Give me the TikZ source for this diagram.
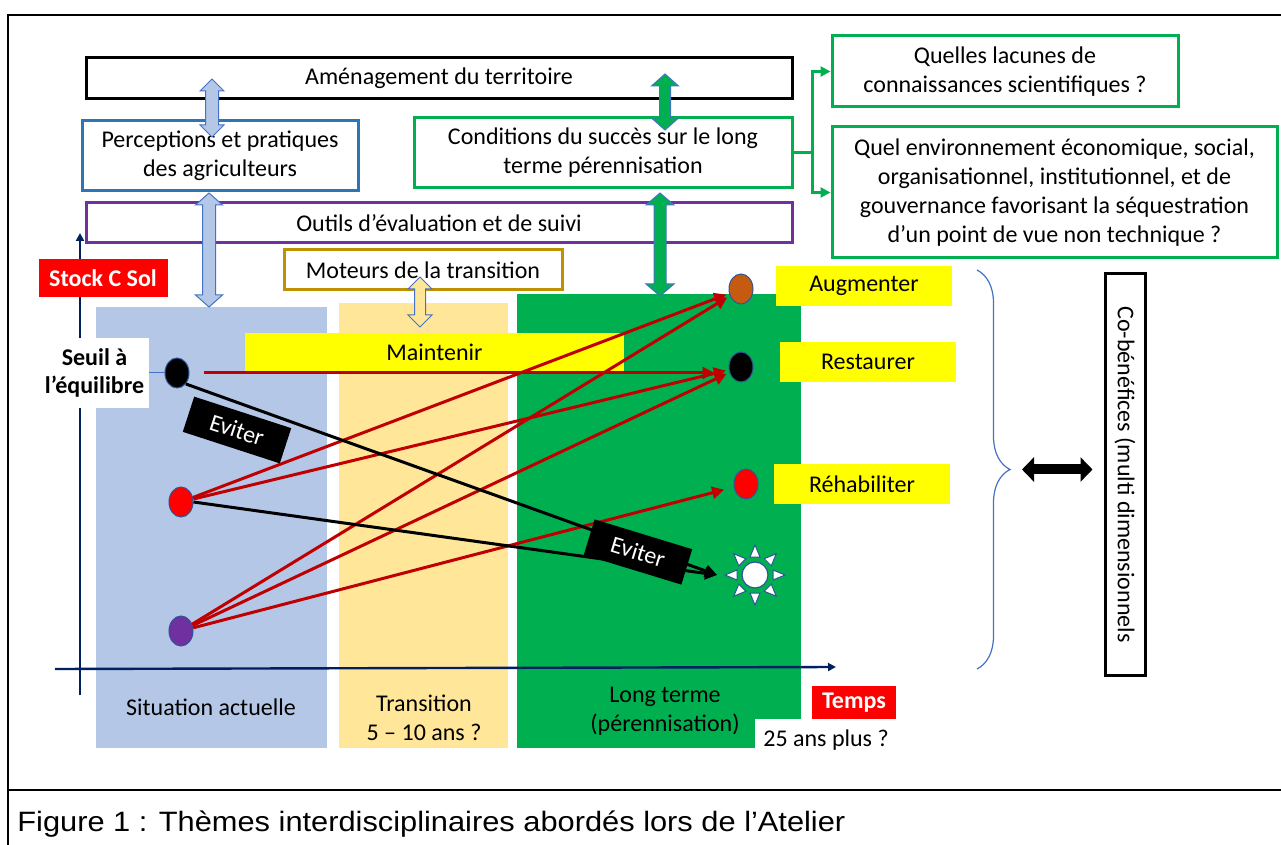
\documentclass[tikz,border=0pt]{standalone}
\usepackage{fontspec}
\setmainfont{Carlito}
\newfontfamily\capfont[FakeStretch=1.1]{Liberation Sans}
\usepackage{xcolor}
\usepackage{tikz}
\usetikzlibrary{positioning,arrows.meta,shapes.geometric,decorations.pathreplacing,calc}

\definecolor{colblue}{HTML}{B4C7E7}
\definecolor{colyellow}{HTML}{FFE699}
\definecolor{colgreen}{HTML}{00B050}
\definecolor{percblue}{HTML}{2E75B6}
\definecolor{outpurple}{HTML}{7030A0}
\definecolor{motgold}{HTML}{BF9000}
\definecolor{arrowedge}{HTML}{4472C4}
\definecolor{arrred}{HTML}{C00000}
\definecolor{axisblue}{HTML}{002060}
\definecolor{dotedge}{HTML}{2F5597}
\definecolor{tagyellow}{HTML}{FFFF00}
\definecolor{dotbrown}{HTML}{C55A11}

\begin{document}
\begin{tikzpicture}[
  x=0.5pt, y=-0.5pt,
  font=\fontsize{12}{14.6}\selectfont,
  every node/.style={align=center, inner sep=0pt},
  box/.style    ={draw, line width=1.5pt, fill=white},
  phase/.style  ={inner sep=0pt},
  ytag/.style   ={fill=tagyellow, minimum width=88pt, minimum height=20pt},
  redtag/.style ={fill=red, text=white, font=\fontsize{12}{14}\selectfont\bfseries},
  cdot/.style   ={ellipse, draw=dotedge, line width=0.5pt, minimum width=12pt, minimum height=15pt},
  sunbody/.style={circle, fill=white, draw=dotedge, line width=0.6pt, minimum size=13pt},
  sunray/.style ={fill=white, draw=dotedge, line width=0.5pt},
  evit/.style   ={fill=black, text=white, minimum width=51pt, minimum height=18.5pt},
  redarr/.style ={draw=arrred, line width=1.5pt, -{Triangle[length=6pt,width=6pt]}},
  blkarr/.style ={draw=black, line width=1.5pt, -{Triangle[length=6pt,width=6pt]}},
  grnline/.style={draw=colgreen, line width=1.5pt},
  grnarr/.style ={grnline, -{Triangle[length=5pt,width=5pt]}},
  axisline/.style={draw=axisblue, line width=1.2pt, -{Triangle[length=4pt,width=4pt]}},
  blockarr/.style={draw=arrowedge, line width=0.5pt},
  bigdbl/.style ={draw=black, line width=5pt,
                  {Triangle[length=6pt,width=12pt]}-{Triangle[length=6pt,width=12pt]}},
  bracestyle/.style={draw=arrowedge, line width=0.6pt, decorate,
                  decoration={brace, amplitude=16.5pt}},
  frame/.style  ={draw=black, line width=1.2pt}
]
\useasboundingbox (0,0) rectangle (1281,845);

% --- Time phases (coloured columns) ---
\node[phase, fill=colblue,   minimum width=115.5pt, minimum height=220.5pt] (colA) at (211.5,527.5) {};
\node[phase, fill=colyellow, minimum width=84.5pt,  minimum height=222.5pt] (colB) at (423.5,525.5) {};
\node[phase, fill=colgreen,  minimum width=142pt,   minimum height=227pt]   (colC) at (659,521) {};
\node[fill=tagyellow, minimum width=189.5pt, minimum height=19.5pt] (maint) at (434.5,352.5) {Maintenir};

% --- Theme boxes ---
\node[box, draw=black,     minimum width=353pt, minimum height=20.5pt] (amen)    at (439,78.5) {Aménagement du territoire};
\node[box, draw=percblue,  minimum width=138pt, minimum height=35pt]   (perc)    at (220,156)  {Perceptions et pratiques\\des agriculteurs};
\node[box, draw=colgreen,  minimum width=189pt, minimum height=35pt]   (cond)    at (603,153)  {Conditions du succès sur le long\\terme pérennisation};
\node[box, draw=outpurple, minimum width=353pt, minimum height=20pt]   (outils)  at (439,223)  {Outils d’évaluation et de suivi};
\node[box, draw=motgold,   minimum width=139pt, minimum height=20pt]   (moteurs) at (423,270)  {Moteurs de la transition};
\node[box, draw=colgreen,  minimum width=173pt, minimum height=35.5pt] (lacunes) at (1005,71.5) {Quelles lacunes de\\connaissances scientifiques ?};
\node[box, draw=colgreen,  minimum width=222.5pt, minimum height=65.5pt] (envir) at (1054.5,192.5)
  {Quel environnement économique, social,\\organisationnel, institutionnel, et de\\gouvernance favorisant la séquestration\\d’un point de vue non technique ?};

% --- Block double arrows (centre x / top / bottom / half shaft / half head / fill) ---
\foreach \cx/\ya/\yb/\sw/\hw/\fc in {212/79/137/6.5/12/colblue, 209/193/307/6.5/13.5/colblue,
                                      420/277/327/5.5/12/colyellow, 665/74/130/5.5/13.5/colgreen,
                                      660/193/296/6/14/colgreen}
  \draw[blockarr, fill=\fc] (\cx,\ya) -- ({\cx+\hw},{\ya+12}) -- ({\cx+\sw},{\ya+12})
    -- ({\cx+\sw},{\yb-12}) -- ({\cx+\hw},{\yb-12}) -- (\cx,\yb) -- ({\cx-\hw},{\yb-12})
    -- ({\cx-\sw},{\yb-12}) -- ({\cx-\sw},{\ya+12}) -- ({\cx-\hw},{\ya+12}) -- cycle;

% --- Questions branching from the long-term conditions ---
\coordinate (split) at ([xshift=9.5pt]cond.east);
\draw[grnline] (cond.east) -- (split);
\draw[grnarr] (split) |- (lacunes.west);
\draw[grnarr] (split) |- (envir.west);

% --- Axes ---
\coordinate (yorig) at (80,695);
\coordinate (ytop)  at (80,233);
\coordinate (xorig) at (55,669);
\coordinate (xend)  at (836,667);
\draw[axisline] (yorig) -- (ytop);
\draw[axisline] (xorig) -- (xend);

\node[redtag, minimum width=64.5pt, minimum height=19pt] (stock) at (103,278) {Stock C Sol};
\node[fill=white, font=\fontsize{12}{14}\selectfont\bfseries, minimum width=54.5pt, minimum height=35pt]
  (seuil) at (94.5,373) {Seuil à\\l’équilibre};

% --- Starting and target states ---
\node[cdot, fill=black]     (d0) at (177,373) {};
\node[cdot, fill=red]       (d1) at (181,502) {};
\node[cdot, fill=outpurple] (d2) at (181,631) {};
\node[cdot, fill=dotbrown]  (dA) at (741,289) {};
\node[cdot, fill=black]     (dR) at (741,367) {};
\node[cdot, fill=red]       (dH) at (746,484) {};
\node[sunbody] (sun) at (755,575) {};
\foreach \a in {0,45,...,315}
  \draw[sunray, shift={(sun.center)}, rotate=\a] (18,-5) -- (30,0) -- (18,5) -- cycle;
\draw[draw=arrowedge, line width=0.5pt] (seuil.east) -- (d0.west);

% --- Trajectories ---
\draw[redarr, shorten <=7pt, shorten >=7pt] (d0.east) -- (d0.east -| dR.west);
\draw[redarr, shorten >=1.5pt] (d1) -- (dA);
\draw[redarr, shorten >=1.5pt] (d1) -- (dR);
\draw[redarr, shorten >=1.5pt] (d2) -- (dA);
\draw[redarr, shorten >=1.5pt] (d2) -- (dR);
\draw[redarr, shorten >=5pt]   (d2) -- (dH);
\coordinate (sunin) at ([xshift=-19pt]sun.center);
\draw[blkarr] (d0.south east) -- (sunin);
\draw[blkarr] (d1.east) -- (sunin);
\node[evit, rotate=-18] (ev1) at (237,430) {Eviter};
\node[evit, rotate=-17] (ev2) at (638,552) {Eviter};

% --- Targets and co-benefits ---
\node[ytag] (augm)  at (864,286) {Augmenter};
\node[ytag] (rest)  at (868,362) {Restaurer};
\node[ytag] (rehab) at (862,484) {Réhabiliter};
\draw[bracestyle] (977,270) -- (977,669);
\coordinate (bracetip) at (1010,469.5);
\node[box, draw=black, minimum width=200.5pt, minimum height=20pt, rotate=-90] (cobene) at (1125,474.5)
  {Co-bénéfices (multi dimensionnels};
\draw[bigdbl, shorten <=6pt, shorten >=5.5pt] (bracetip) -- (bracetip -| cobene.south);

% --- Phase labels ---
\node (sit)   at (211,707) {Situation actuelle};
\node (trans) at (424,718) {Transition\\5 – 10 ans ?};
\node (longt) at (665,711) {Long terme\\(pérennisation)};
\node[redtag, minimum width=42pt, minimum height=16.5pt] (temps) at (854,702.5) {Temps};
\node[fill=white, minimum width=71.5pt, minimum height=21.5pt] (ans) at (826,740.5) {25 ans plus ?};

% --- Figure frame and caption ---
\draw[frame] (8,845) -- (8,15) -- (1281,15);
\draw[frame] (8,790) -- (1281,790);
\node[anchor=base west, font=\capfont\fontsize{14}{16}\selectfont] (caption) at (17,831)
  {Figure 1 : Thèmes interdisciplinaires abordés lors de l’Atelier};
\end{tikzpicture}
\end{document}
